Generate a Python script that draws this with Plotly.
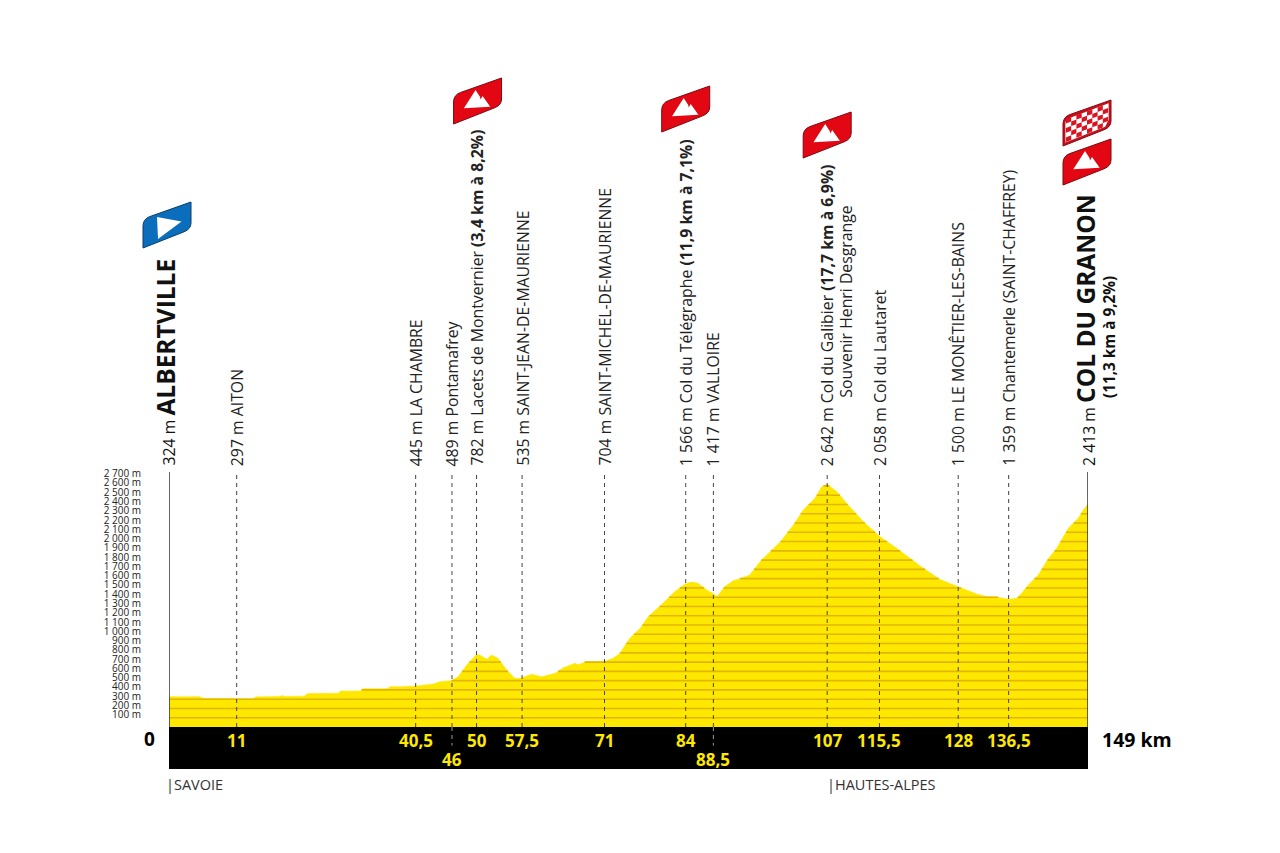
import plotly.graph_objects as go

# ---------- data ----------
profile_km = [0, 5, 5.6, 13.6, 14.2, 18, 18.4, 18.8, 22, 22.5, 27.5, 27.9, 31.1, 31.5, 35.5, 35.9, 37.5,
              40.1, 43, 44, 45.9, 47, 48.4, 49.9, 50.5, 51.7, 52.4, 53.5, 54.9, 56.2, 57, 59, 60.6, 62.8,
              64.1, 66, 66.6, 67.6, 70.6, 72.2, 73.3, 74.9, 76.6, 77.9, 80.3, 82.2, 83.9, 84.9, 86, 87.6,
              88.4, 89.1, 90.3, 91.7, 92.8, 94.4, 96.3, 99.4, 101.5, 103.1, 105, 106.1, 107, 108.6, 110.4,
              112.9, 115.6, 118.3, 122.3, 125.3, 128.3, 131.3, 133, 134.6, 136.5, 137.8, 138.6, 139.7,
              141.3, 143, 144.3, 146.2, 147.8, 148.7, 149.4]
profile_alt = [327, 327, 309, 305, 325, 328, 340, 330, 333, 360, 363, 388, 388, 413, 413, 435, 435,
               442, 464, 489, 500, 543, 669, 777, 777, 730, 777, 741, 615, 525, 525, 568, 543, 579,
               640, 687, 672, 701, 705, 741, 795, 957, 1065, 1190, 1334, 1460, 1543, 1564, 1550, 1470,
               1442, 1405, 1513, 1578, 1600, 1640, 1801, 1999, 2179, 2341, 2467, 2592, 2618, 2538, 2395,
               2215, 2053, 1928, 1729, 1593, 1513, 1435, 1405, 1402, 1377, 1388, 1442, 1532,
               1640, 1820, 1928, 2143, 2251, 2348, 2402]
alt_levels = list(range(100, 2800, 100))
alt_labels = [f"{a // 1000} {a % 1000:03d} m" if a >= 1000 else f"{a} m" for a in alt_levels]

# km positions as they sit on the drawing (the printed figures are in the *_text lists)
row1_km = [11, 40.1, 50, 57.4, 70.8, 84, 107, 115.5, 128.3, 136.5]
row1_text = ["11", "40,5", "50", "57,5", "71", "84", "107", "115,5", "128", "136,5"]
row2_km = [46, 88.5]
row2_text = ["46", "88,5"]

place_km = [11, 40.1, 46, 50, 57.4, 70.8, 84, 88.5, 107, 115.5, 128.3, 136.5]
place_text = [
    "297 m AITON",
    "445 m LA CHAMBRE",
    "489 m Pontamafrey",
    "782 m Lacets de Montvernier <b>(3,4 km à 8,2%)</b>",
    "535 m SAINT-JEAN-DE-MAURIENNE",
    "704 m SAINT-MICHEL-DE-MAURIENNE",
    "1 566 m Col du Télégraphe <b>(11,9 km à 7,1%)</b>",
    "1 417 m VALLOIRE",
    "2 642 m Col du Galibier <b>(17,7 km à 6,9%)</b>",
    "2 058 m Col du Lautaret",
    "1 500 m LE MONÊTIER-LES-BAINS",
    "1 359 m Chantemerle (SAINT-CHAFFREY)",
]
start_name, start_alt = "ALBERTVILLE", "324 m"
finish_name, finish_alt = "COL DU GRANON", "2 413 m"
total_label = "149 km"
dept_km = [0, 107.5]
dept_text = ["|SAVOIE", "|HAUTES-ALPES"]

# flags: km they mark, pixel offset of lower-left corner from that km / from altitude 0
red_flags = [(50, -23, 603), (84, -24, 595), (107, -24, 569), (149.4, -25, 542)]
START_FLAG = (0, -26, 479)
CHECK_FLAG = (149.4, -25, 581)

# ---------- style ----------
FONT = "Open Sans"
YELLOW, LEVEL = "#FFE800", "#E2B600"
KM_MAX, Y_MIN, Y_MAX = 149.4, -453, 2772
BAND_PX = 42  # black band height, pixels below altitude 0
LABEL = 15.8

fig = go.Figure()

# black band under the profile
fig.add_trace(go.Scatter(x=[0, KM_MAX], y=[Y_MIN, Y_MIN], fill="tozeroy", fillcolor="#000000",
                         mode="none", hoverinfo="skip"))
# yellow profile
fig.add_trace(go.Scatter(x=profile_km, y=profile_alt, fill="tozeroy", fillcolor=YELLOW,
                         mode="lines", line=dict(color=YELLOW, width=0.5), hoverinfo="skip"))


# altitude bands: each level is drawn only where the profile is above it
def level_segments(level):
    xs, ys = [], []
    inside = profile_alt[0] >= level
    if inside:
        xs.append(profile_km[0]); ys.append(level)
    for i in range(1, len(profile_km)):
        a0, a1 = profile_alt[i - 1], profile_alt[i]
        if (a0 >= level) != (a1 >= level):
            k0, k1 = profile_km[i - 1], profile_km[i]
            cross = k0 + (level - a0) / (a1 - a0) * (k1 - k0)
            xs.append(cross); ys.append(level)
            if inside:
                xs.append(None); ys.append(None)
            inside = not inside
    if inside:
        xs.append(profile_km[-1]); ys.append(level)
    return xs, ys


lx, ly = [], []
for lv in alt_levels:
    sx, sy = level_segments(lv)
    lx += sx + [None]
    ly += sy + [None]
fig.add_trace(go.Scatter(x=lx, y=ly, mode="lines", line=dict(color=LEVEL, width=1.6),
                         connectgaps=False, hoverinfo="skip"))

# dashed leaders
dx, dy = [], []
for k in place_km:
    dx += [k, k, None]
    dy += [0, 2745, None]
fig.add_trace(go.Scatter(x=dx, y=dy, mode="lines", hoverinfo="skip",
                         line=dict(color="#444444", width=1, dash="4px,4px")))
gx, gy = [], []
for k in row2_km:
    gx += [k, k, None]
    gy += [0, -200, None]
fig.add_trace(go.Scatter(x=gx, y=gy, mode="lines", hoverinfo="skip",
                         line=dict(color="#999999", width=1, dash="4px,4px")))
# solid start / finish posts
for k in (0, KM_MAX):
    fig.add_trace(go.Scatter(x=[k, k], y=[0, 2750], mode="lines", hoverinfo="skip",
                             line=dict(color="#333333", width=1.5)))

ann = []
# place labels
for k, t in zip(place_km, place_text):
    ann.append(dict(x=k, y=1, yref="paper", text=t, textangle=-90, showarrow=False, xanchor="center",
                    yanchor="bottom", yshift=2, font=dict(family=FONT, size=LABEL, color="#222222")))
ann.append(dict(x=107, y=1, yref="paper", text="Souvenir Henri Desgrange", textangle=-90, showarrow=False,
                xanchor="center", yanchor="bottom", xshift=18, yshift=70,
                font=dict(family=FONT, size=LABEL, color="#222222")))
big = '<span style="font-size:{}px"><b>{}</b></span>'
ann.append(dict(x=0, y=1, yref="paper", text=f"{start_alt} " + big.format(24.5, start_name), textangle=-90,
                showarrow=False, xanchor="center", yanchor="bottom", xshift=-4, yshift=2,
                font=dict(family=FONT, size=LABEL, color="#111111")))
ann.append(dict(x=KM_MAX, y=1, yref="paper", text=f"{finish_alt} " + big.format(24.5, finish_name), textangle=-90,
                showarrow=False, xanchor="center", yanchor="bottom", xshift=-3, yshift=2,
                font=dict(family=FONT, size=LABEL, color="#111111")))
ann.append(dict(x=KM_MAX, y=1, yref="paper", text="<b>(11,3 km à 9,2%)</b>", textangle=-90, showarrow=False,
                xanchor="center", yanchor="bottom", xshift=21, yshift=70,
                font=dict(family=FONT, size=15.3, color="#111111")))
# km labels inside the band
for k, t in zip(row1_km, row1_text):
    ann.append(dict(x=k, y=-150, text=f"<b>{t}</b>", showarrow=False,
                    font=dict(family=FONT, size=17, color=YELLOW)))
for k, t in zip(row2_km, row2_text):
    ann.append(dict(x=k, y=-355, text=f"<b>{t}</b>", showarrow=False,
                    font=dict(family=FONT, size=17, color=YELLOW)))
ann.append(dict(x=0, y=-130, text="<b>0</b>", showarrow=False, xshift=-20,
                font=dict(family=FONT, size=19, color="#000000")))
ann.append(dict(x=KM_MAX, y=-130, text=f"<b>{total_label}</b>", showarrow=False, xanchor="left", xshift=12,
                font=dict(family=FONT, size=19.5, color="#000000")))
for k, t in zip(dept_km, dept_text):
    ann.append(dict(x=k, y=0, yref="paper", text=t, showarrow=False, xanchor="left", yanchor="top", yshift=-4,
                    xshift=-5, font=dict(family=FONT, size=14.5, color="#333333")))

# ---------- flags (pixel sized shapes anchored on the km scale) ----------
W, H0, H1, RISE = 48.0, 29.0, 46.0, 19.0


def pt(u, v):
    bot = RISE * u
    top = H0 + (H1 - H0) * u
    return W * u, bot + v * (top - bot)


def flag_outline():
    return [("M", 0, 0), ("L", 0, H0 - 7), ("Q", 0, H0, 7, H0 + 2.5), ("L", W, H1), ("L", W, RISE + 6),
            ("Q", W, RISE, W - 7, RISE - 2.8)]


def poly(points):
    return [("M" if i == 0 else "L", x, y) for i, (x, y) in enumerate(points)]


def add_path(km, ox, oy, segs, fill, line=None):
    parts = []
    for seg in segs:
        vals = seg[1:]
        coords = " ".join(f"{vals[i] + ox:.1f},{vals[i + 1] + oy + BAND_PX:.1f}" for i in range(0, len(vals), 2))
        parts.append(f"{seg[0]}{coords}")
    # paper x on a full-width domain equals the km fraction; paper y = 0 is the bottom of the band
    fig.add_shape(type="path", path=" ".join(parts) + " Z", xsizemode="pixel", ysizemode="pixel",
                  xanchor=km / KM_MAX, yanchor=0, xref="paper", yref="paper", fillcolor=fill,
                  line=dict(color=line or fill, width=1 if line else 0), layer="above")


MOUNTAIN = [(10.3, 15.7), (22, 34), (26.5, 27), (27, 24.5), (29, 28), (36.7, 17.3)]
for km, ox, oy in red_flags:
    add_path(km, ox, oy, flag_outline(), "#E30613", "#7A0A10")
    add_path(km, ox, oy, poly(MOUNTAIN), "#FFFFFF")

# start flag
km, ox, oy = START_FLAG
add_path(km, ox, oy, flag_outline(), "#0A6EBD", "#0B3C66")
add_path(km, ox, oy, poly([(14, 31), (38.5, 26.5), (15, 9)]), "#FFFFFF")

# chequered flag
km, ox, oy = CHECK_FLAG
add_path(km, ox, oy, flag_outline(), "#C4101C", "#8A0A12")
add_path(km, ox, oy, poly([pt(0.05, 0.09), pt(0.05, 0.8), pt(0.1, 0.88), pt(0.95, 0.91), pt(0.95, 0.3),
                           pt(0.88, 0.09)]), "#FFFFFF")
COLS, ROWS = 8, 5
for c in range(COLS):
    for r in range(ROWS):
        if (c + r) % 2 == 0:
            u0, u1 = 0.06 + 0.88 * c / COLS, 0.06 + 0.88 * (c + 1) / COLS
            v0, v1 = 0.1 + 0.8 * r / ROWS, 0.1 + 0.8 * (r + 1) / ROWS
            add_path(km, ox, oy, poly([pt(u0, v0), pt(u0, v1), pt(u1, v1), pt(u1, v0)]), "#D7141F")

# the page adds an 8 px body margin around the figure
fig.update_layout(
    width=1264, height=837, margin=dict(l=161, r=184, t=462, b=76),
    paper_bgcolor="#FFFFFF", plot_bgcolor="#FFFFFF", showlegend=False, annotations=ann,
    xaxis=dict(range=[0, KM_MAX], visible=False, fixedrange=True),
    yaxis=dict(range=[Y_MIN, Y_MAX], tickmode="array", tickvals=alt_levels, ticktext=alt_labels,
               showgrid=False, zeroline=False, showline=False, ticks="", ticklabelstandoff=27,
               ticklabelshift=-3, fixedrange=True,
               tickfont=dict(family=FONT, size=10, color="#222222")),
)
fig.write_html("out.html", config=dict(displayModeBar=False))
